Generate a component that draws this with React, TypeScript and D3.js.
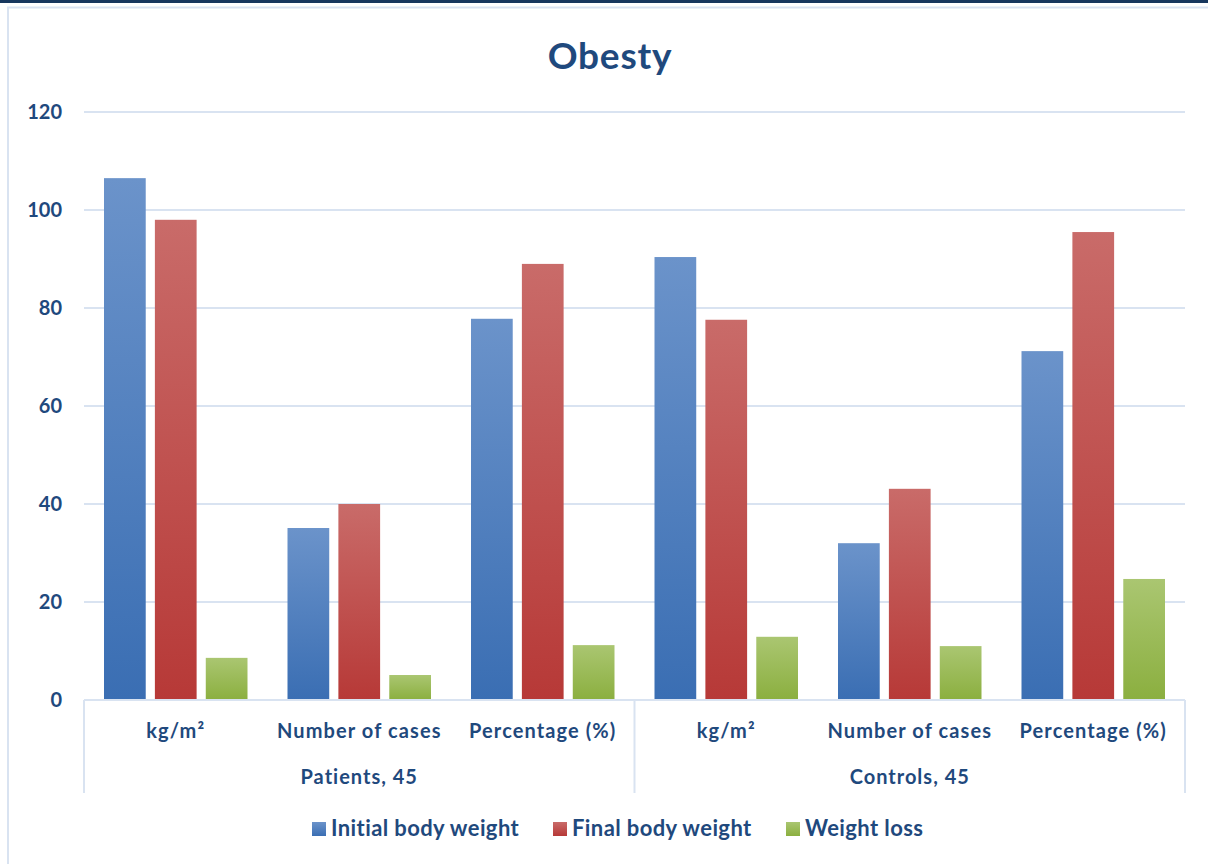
import React from "react";
import * as d3 from "d3";

const groups = ["Patients, 45", "Controls, 45"];
const categories = ["kg/m²", "Number of cases", "Percentage (%)"];
const seriesNames = ["Initial body weight", "Final body weight", "Weight loss"];
// one value per (group, category), in group order
const initialWeight = [106.5, 35.1, 77.8, 90.4, 32.0, 71.2];
const finalWeight = [98.0, 40.0, 89.0, 77.6, 43.1, 95.5];
const weightLoss = [8.6, 5.1, 11.2, 12.9, 11.0, 24.7];
const yTicks = [0, 20, 40, 60, 80, 100, 120];

const W = 1208;
const H = 864;
const FONT = "Lato, 'Open Sans', sans-serif";
const TEXT = "#1F497D";
const GRID = "#D9E3F1";

const palettes = [
  { id: "gBlue", top: "#6B93CA", bottom: "#3A6EB3" },
  { id: "gRed", top: "#C96B69", bottom: "#B73937" },
  { id: "gGreen", top: "#AAC671", bottom: "#8BAF3F" },
];

export default function App() {
  const left = 84;
  const right = 1185;
  const series = [initialWeight, finalWeight, weightLoss];
  const slots = groups.flatMap((g, gi) => categories.map((c, ci) => `${gi}-${ci}`));

  const x = d3.scaleBand<string>().domain(slots).range([left, right]).padding(0);
  const inner = d3
    .scaleBand<string>()
    .domain(seriesNames)
    .range([20, x.bandwidth() - 20])
    .paddingInner(0.18);
  const y = d3.scaleLinear().domain([0, 120]).range([700, 112]);

  const groupWidth = x.bandwidth() * categories.length;
  const legendX = [312, 553, 786];

  return (
    <svg
      width={W}
      height={H}
      style={{ position: "absolute", left: 0, top: 0, background: "#fff" }}
      fontFamily={FONT}
    >
      <defs>
        {palettes.map((p) => (
          <linearGradient key={p.id} id={p.id} x1="0" y1="0" x2="0" y2="1">
            <stop offset="0" stopColor={p.top} />
            <stop offset="1" stopColor={p.bottom} />
          </linearGradient>
        ))}
      </defs>

      {/* page header strip and chart frame */}
      <rect x={0} y={0} width={W} height={3} fill="#17375E" />
      <line x1={8} x2={8} y1={7} y2={H} stroke={GRID} strokeWidth={2} />
      <line x1={7} x2={W} y1={7.5} y2={7.5} stroke={GRID} strokeWidth={2} />

      <text
        x={610}
        y={69}
        textAnchor="middle"
        fontSize={37}
        fontWeight={700}
        letterSpacing={0.8}
        fill={TEXT}
      >
        Obesty
      </text>

      {/* gridlines */}
      {yTicks.map((t) => (
        <line
          key={t}
          x1={left}
          x2={right}
          y1={y(t)}
          y2={y(t)}
          stroke={GRID}
          strokeWidth={2}
        />
      ))}
      {yTicks.map((t) => (
        <text
          key={`l${t}`}
          x={62}
          y={y(t) + 7}
          textAnchor="end"
          fontSize={20}
          fontWeight={700}
          fill={TEXT}
        >
          {t}
        </text>
      ))}

      {/* bars */}
      {slots.map((s, i) =>
        seriesNames.map((name, si) => {
          const v = series[si][i];
          return (
            <rect
              key={`${s}-${si}`}
              x={(x(s) ?? 0) + (inner(name) ?? 0)}
              y={y(v)}
              width={inner.bandwidth()}
              height={y(0) - y(v)}
              fill={`url(#${palettes[si].id})`}
            />
          );
        })
      )}

      {/* category axis frame */}
      <line x1={left} x2={right} y1={700} y2={700} stroke={GRID} strokeWidth={2} />
      {[0, 1, 2].map((k) => (
        <line
          key={`v${k}`}
          x1={left + k * groupWidth}
          x2={left + k * groupWidth}
          y1={700}
          y2={793}
          stroke={GRID}
          strokeWidth={2}
        />
      ))}

      {slots.map((s, i) => (
        <text
          key={`c${s}`}
          x={(x(s) ?? 0) + x.bandwidth() / 2}
          y={738}
          textAnchor="middle"
          fontSize={20}
          fontWeight={700}
          letterSpacing={1.1}
          fill={TEXT}
        >
          {categories[i % categories.length]}
        </text>
      ))}
      {groups.map((g, gi) => (
        <text
          key={g}
          x={left + gi * groupWidth + groupWidth / 2}
          y={784}
          textAnchor="middle"
          fontSize={20}
          fontWeight={700}
          letterSpacing={1}
          fill={TEXT}
        >
          {g}
        </text>
      ))}

      {/* legend */}
      {seriesNames.map((name, si) => (
        <g key={name}>
          <rect
            x={legendX[si]}
            y={822}
            width={14}
            height={14}
            fill={`url(#${palettes[si].id})`}
          />
          <text
            x={legendX[si] + 19}
            y={836}
            fontSize={22}
            fontWeight={700}
            letterSpacing={0.4}
            fill={TEXT}
          >
            {name}
          </text>
        </g>
      ))}
    </svg>
  );
}
